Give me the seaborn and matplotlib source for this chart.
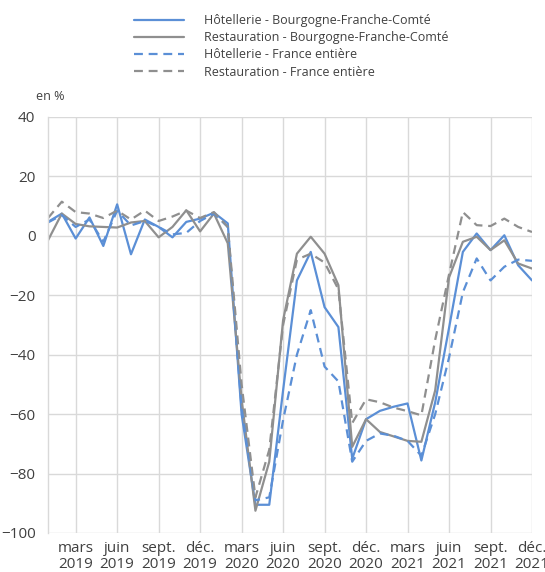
import matplotlib
matplotlib.use("Agg")
from matplotlib import pyplot as plt
import seaborn as sns
import pandas as pd

# monthly data, janv. 2019 -> déc. 2021 (36 months)
tick_labels = ['mars\n2019', 'juin\n2019', 'sept.\n2019', 'déc.\n2019',
               'mars\n2020', 'juin\n2020', 'sept.\n2020', 'déc.\n2020',
               'mars\n2021', 'juin\n2021', 'sept.\n2021', 'déc.\n2021']
tick_months = [2, 5, 8, 11, 14, 17, 20, 23, 26, 29, 32, 35]

hotel_bfc = [4.7, 7.5, -0.9, 6.2, -3.4, 10.6, -6.2, 5.5, 3.0, -0.5, 4.7, 5.8,
             7.8, 4.2, -60, -90.5, -90.5, -52, -15, -5.4, -24, -30.7, -75, -61.7,
             -58.9, -57.5, -56.4, -75.6, -56, -31, -5.4, 0.8, -4.8, 0.2, -9.9, -15]
resto_bfc = [-1.5, 7.5, 4.0, 3.2, 3.0, 2.8, 4.5, 5.0, -0.5, 3.0, 8.6, 1.5,
             7.5, -2.5, -55, -92.5, -76, -28.4, -6, -0.3, -6, -16.6, -71, -61.7,
             -66, -67.5, -69, -69.3, -52, -14, -2, -0.3, -4.8, -1.5, -9.3, -11]
hotel_fr = [4.5, 7.0, 3.0, 5.5, -2.0, 8.5, 3.5, 5.0, 3.0, 0.5, 1.0, 5.0,
            7.5, 3.0, -58, -89, -88, -62, -40, -25, -44, -49, -76, -69,
            -66.5, -67.3, -69, -74, -60, -41, -19, -7.6, -15, -10.4, -8, -8.4]
resto_fr = [6.0, 11.5, 8.0, 7.5, 6.0, 8.5, 5.5, 8.5, 5.0, 6.5, 8.5, 6.0,
            8.0, 3.0, -50, -88, -72, -30, -8, -6, -9, -18, -63, -55,
            -56, -57.8, -59, -60.4, -35, -13, 8.0, 3.6, 3.3, 5.8, 3.0, 1.3]

series = {
    'Hôtellerie - Bourgogne-Franche-Comté': hotel_bfc,
    'Restauration - Bourgogne-Franche-Comté': resto_bfc,
    'Hôtellerie - France entière': hotel_fr,
    'Restauration - France entière': resto_fr,
}

rows = []
for name, values in series.items():
    for month, v in enumerate(values):
        rows.append((name, month, v))
df = pd.DataFrame(rows, columns=['serie', 'mois', 'valeur'])

blue = '#5b8fd6'
gray = '#8f8f8f'
names = list(series.keys())
palette = {names[0]: blue, names[1]: gray, names[2]: blue, names[3]: gray}
dashes = {names[0]: '', names[1]: '', names[2]: (4, 2.6), names[3]: (4, 2.6)}

sns.set_theme(style="white")
plt.rcParams['font.family'] = ['Open Sans', 'DejaVu Sans']
text_color = '#404040'

fig = plt.figure(figsize=(5.45, 5.72), dpi=100)
ax = fig.add_axes([48 / 545, 1 - 533 / 572, 484 / 545, 416 / 572])

sns.lineplot(data=df, x='mois', y='valeur', hue='serie', style='serie',
             hue_order=names, style_order=names, palette=palette, dashes=dashes,
             linewidth=1.6, ax=ax, legend=True)

ax.set_xlim(0, 35)
ax.set_ylim(-100, 40)
ax.set_yticks(range(-100, 41, 20))
ax.set_xticks(tick_months)
ax.set_xticklabels(tick_labels, linespacing=1.1)
ax.tick_params(axis='x', labelsize=11, pad=6, length=0, colors=text_color)
ax.tick_params(axis='y', labelsize=11, pad=9, length=0, colors=text_color)
ax.set_xlabel('')
ax.set_ylabel('')
ax.grid(True, color='#d9d9d9', linewidth=1)
for side in ['top', 'right', 'bottom']:
    ax.spines[side].set_visible(False)
ax.spines['left'].set_color('#d9d9d9')
ax.spines['left'].set_linewidth(1)

handles, labels = ax.get_legend_handles_labels()
ax.get_legend().remove()
fig.legend(handles, labels, loc='upper left', bbox_to_anchor=(128 / 545, 1 - 8 / 572),
           frameon=False, fontsize=9, handlelength=4, handletextpad=1.6,
           labelspacing=0.33, borderpad=0, labelcolor=text_color)

fig.text(36 / 545, 1 - 97 / 572, 'en %', fontsize=9, color=text_color, va='center')

fig.savefig('out.png', dpi=100)
